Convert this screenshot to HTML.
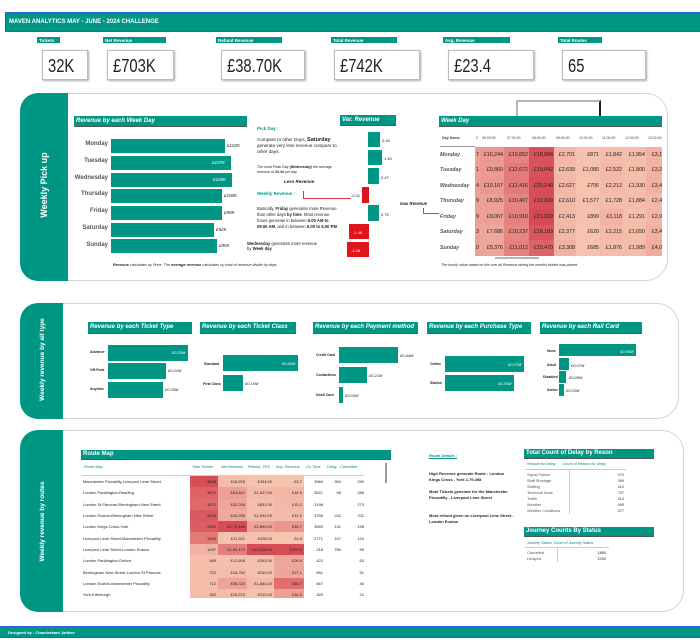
<!DOCTYPE html>
<html><head><meta charset="utf-8"><style>
*{margin:0;padding:0;box-sizing:border-box}
body{width:700px;height:644px;background:#fff;position:relative;overflow:hidden;font-family:"Liberation Sans",sans-serif;color:#222}
.a{position:absolute}
.t{background:#009684;color:#fff}
.hd{position:absolute;background:#009684;color:#fff;font-weight:bold;font-style:italic;font-size:6px;padding:2px 2px;border-bottom:1.5px solid #555;white-space:nowrap}
.lbl{position:absolute;background:#009684;color:#fff;font-weight:bold;font-size:4.5px;padding:1px 2px;height:6px}
.kpi{position:absolute;top:50px;height:30px;border:1px solid #bbb;box-shadow:1px 1px 2px #aaa;font-size:18px;padding:5px 0 0 5px}
.kpi span{display:inline-block;transform:scaleX(0.82);transform-origin:left}
.sec{position:absolute;border:1.5px solid #cfd6d4;border-radius:22px;background:#fff}
.band{position:absolute;background:#009684;border-radius:18px 0 0 18px}
.vt{position:absolute;color:#fff;font-weight:bold;transform:rotate(-90deg);white-space:nowrap;transform-origin:center}
.bar{position:absolute;background:#009684}
.s{position:absolute;font-size:4px;white-space:nowrap}
.dl{position:absolute;font-size:4.5px;font-style:italic;white-space:nowrap}
table{border-collapse:collapse;table-layout:fixed}
.hm td{height:15.5px;font-size:5.3px;text-align:right;padding:0 1px;white-space:nowrap;overflow:hidden}
.hm td.d{text-align:left;font-style:italic;font-weight:bold;color:#555;background:#fff;font-size:5.3px;padding-left:1px}
.rt td{height:11.3px;font-size:4px;text-align:right;padding:0 2px;white-space:nowrap;overflow:hidden}
.rt td.n{text-align:left;background:#fff}
.ch{position:absolute;top:136px;font-size:3.5px;color:#444;white-space:nowrap}
</style></head><body>

<div class="a t" style="left:5px;top:12px;width:700px;height:20px;border:1px solid #2b5fd9;font-size:6px;font-weight:bold;padding:6px 0 0 3px">MAVEN ANALYTICS MAY - JUNE - 2024 CHALLENGE</div>

<div class="lbl" style="left:37px;top:37px;width:23px">Tickets</div>
<div class="kpi" style="left:42px;width:46px"><span>32K</span></div>
<div class="lbl" style="left:103px;top:37px;width:63px">Net Revenue</div>
<div class="kpi" style="left:107px;width:67px"><span>£703K</span></div>
<div class="lbl" style="left:216px;top:37px;width:66px">Refund Revenue</div>
<div class="kpi" style="left:221px;width:84px"><span>£38.70K</span></div>
<div class="lbl" style="left:331px;top:37px;width:66px">Total Revenue</div>
<div class="kpi" style="left:334px;width:86px"><span>£742K</span></div>
<div class="lbl" style="left:443px;top:37px;width:67px">Avg. Revenue</div>
<div class="kpi" style="left:448px;width:86px"><span>£23.4</span></div>
<div class="lbl" style="left:558px;top:37px;width:44px">Total Routes</div>
<div class="kpi" style="left:562px;width:84px"><span>65</span></div>

<!-- Section 1 -->
<div class="sec" style="left:20px;top:93px;width:648px;height:188px"></div>
<div class="band" style="left:20px;top:93px;width:48px;height:188px"></div>
<div class="vt" style="left:-6px;top:180px;width:100px;text-align:center;font-size:9px">Weekly Pick up</div>

<div class="hd" style="left:74px;top:116px;width:173px;height:11px">Revenue by each Week Day</div>
<div class="a" style="left:30px;top:136px;width:78px;font-size:6px;font-weight:bold;color:#555;text-align:right;line-height:16.8px">Monday<br>Tuesday<br>Wednesday<br>Thursday<br>Friday<br>Saturday<br>Sunday</div>
<div class="bar" style="left:111px;top:139px;width:114px;height:14px"></div><div class="dl" style="left:227px;top:143px">£102K</div>
<div class="bar" style="left:111px;top:156px;width:120px;height:14px"></div><div class="dl" style="left:212px;top:160px;color:#fff">£107K</div>
<div class="bar" style="left:111px;top:173px;width:121px;height:14px"></div><div class="dl" style="left:213px;top:177px;color:#fff">£108K</div>
<div class="bar" style="left:111px;top:189px;width:111px;height:14px"></div><div class="dl" style="left:224px;top:193px">£100K</div>
<div class="bar" style="left:111px;top:206px;width:111px;height:14px"></div><div class="dl" style="left:224px;top:210px">£99K</div>
<div class="bar" style="left:111px;top:223px;width:103px;height:14px"></div><div class="dl" style="left:216px;top:227px">£92K</div>
<div class="bar" style="left:111px;top:239px;width:106px;height:14px"></div><div class="dl" style="left:219px;top:243px">£95K</div>
<div class="s" style="left:113px;top:263px;font-style:italic;font-size:3.8px"><b>Revenue</b> calculates by Price. The <b>average revenue</b> calculates by total of revenue divide by days.</div>

<div class="a" style="left:257px;top:126px;font-size:4.5px;font-weight:bold;color:#009684">Pick Day :</div>
<div class="a" style="left:257px;top:137px;font-size:4.6px;line-height:6px;width:80px">Compare to other Days, <b style="font-size:5.5px">Saturday</b> generate very less revenue compare to other days.</div>
<div class="a" style="left:257px;top:165px;font-size:3.6px;line-height:5px;width:80px">The most Peak Day <b>(Wednesday)</b> the average revenue of <b>23.44</b> per day</div>
<div class="a" style="left:284px;top:179px;font-size:4.5px;font-weight:bold;font-style:italic">Less Revenue</div>
<div class="a" style="left:257px;top:191px;font-size:4.5px;font-weight:bold;color:#009684">Weekly Revenue :</div>
<div class="a" style="left:303px;top:191px;width:1px;height:7px;background:#d33"></div>
<div class="a" style="left:303px;top:198px;width:48px;height:1px;background:#d33"></div>
<div class="a" style="left:257px;top:206px;font-size:4.2px;line-height:6px;width:80px">Basically, <b>Friday</b> generates more Revenue than other days <b>by time</b>. Most revenue hours generate in between <b>6.00 AM to 09.00 AM</b>. and in between <b>5.00 to 6.00 PM</b></div>
<div class="a" style="left:247px;top:241px;font-size:4.2px;line-height:5px;width:70px"><b>Wednesday</b> generates more revenue by <b>Week day</b></div>

<div class="hd" style="left:340px;top:115px;width:56px;height:11px">Var. Revenue</div>
<div class="bar" style="left:368px;top:132px;width:12px;height:15px"></div><div class="s" style="left:382px;top:138px">0.45</div>
<div class="bar" style="left:368px;top:150px;width:14px;height:15px"></div><div class="s" style="left:384px;top:156px">1.40</div>
<div class="bar" style="left:368px;top:168px;width:11px;height:16px"></div><div class="s" style="left:381px;top:175px">0.47</div>
<div class="a" style="left:362px;top:187px;width:7px;height:16px;background:#e0141a"></div><div class="s" style="left:351px;top:193px">-0.41</div>
<div class="bar" style="left:368px;top:205px;width:11px;height:16px"></div><div class="s" style="left:381px;top:212px">0.75</div>
<div class="a" style="left:349px;top:224px;width:20px;height:15px;background:#e0141a"></div><div class="s" style="left:353px;top:230px;color:#fff">-1.48</div>
<div class="a" style="left:347px;top:242px;width:22px;height:15px;background:#e0141a"></div><div class="s" style="left:351px;top:248px;color:#fff">-1.48</div>
<div class="a" style="left:400px;top:201px;font-size:4.2px;font-weight:bold;font-style:italic">max Revenue</div>
<div class="a" style="left:423px;top:208px;width:1px;height:5px;background:#d33"></div>
<div class="a" style="left:423px;top:213px;width:19px;height:1px;background:#d33"></div>

<div class="a" style="left:516px;top:100px;width:85px;height:16px;border:2px solid #b5b5b5;border-bottom:none;border-right:2px solid #222"></div>
<div class="hd" style="left:439px;top:116px;width:223px;height:11px">Week Day</div>
<div class="a" style="left:442px;top:136px;font-size:3.7px;font-weight:bold;color:#444;white-space:nowrap">Day Name</div>
<div class="ch" style="left:476px">0</div>
<div class="ch" style="left:482px">06:00:00</div>
<div class="ch" style="left:507px">07:00:00</div>
<div class="ch" style="left:532px">08:00:00</div>
<div class="ch" style="left:556px">09:00:00</div>
<div class="ch" style="left:579px">10:00:00</div>
<div class="ch" style="left:602px">11:00:00</div>
<div class="ch" style="left:625px">12:00:00</div>
<div class="ch" style="left:648px">13:00:00</div>
<div class="a" style="left:440px;top:146px;width:35px;height:1px;background:#999"></div>
<div class="a" style="left:439px;top:147px;width:223px;height:109px;overflow:hidden">
<table class="hm" style="width:230px">
<colgroup><col style="width:36px"><col style="width:5px"><col style="width:24px"><col style="width:25px"><col style="width:25px"><col style="width:22px"><col style="width:24px"><col style="width:23px"><col style="width:23px"><col style="width:23px"></colgroup>
<tr><td class="d">Monday</td><td style="background:#ee9f95">7</td><td style="background:#ea9890">£10,244</td><td style="background:#e5837f">£10,852</td><td style="background:#d9525a">£18,884</td><td style="background:#f3b8a7">£2,701</td><td style="background:#f5c2ae">£871</td><td style="background:#f4bca9">£1,842</td><td style="background:#f4bda9">£1,954</td><td style="background:#f2b2a3">£3,197</td></tr>
<tr><td class="d">Tuesday</td><td style="background:#ee9f95">1</td><td style="background:#eb9b92">£9,860</td><td style="background:#e37b79">£12,672</td><td style="background:#d95159">£19,042</td><td style="background:#f3b8a7">£2,639</td><td style="background:#f5c1ad">£1,080</td><td style="background:#f3b8a7">£2,522</td><td style="background:#f4bea9">£1,800</td><td style="background:#f2b2a3">£3,228</td></tr>
<tr><td class="d">Wednesday</td><td style="background:#ee9f95">4</td><td style="background:#ea9890">£10,167</td><td style="background:#e37c79">£12,416</td><td style="background:#d74c55">£20,149</td><td style="background:#f3b8a7">£2,627</td><td style="background:#f5c3ae">£706</td><td style="background:#f3baa8">£2,212</td><td style="background:#f4bda9">£1,930</td><td style="background:#f2b0a1">£3,465</td></tr>
<tr><td class="d">Thursday</td><td style="background:#ee9f95">9</td><td style="background:#eca196">£8,925</td><td style="background:#e6857f">£10,407</td><td style="background:#d84e57">£19,809</td><td style="background:#f3b8a7">£2,610</td><td style="background:#f4bfab">£1,577</td><td style="background:#f4bda9">£1,728</td><td style="background:#f4bda9">£1,884</td><td style="background:#f3b8a7">£2,460</td></tr>
<tr><td class="d">Friday</td><td style="background:#ee9f95">9</td><td style="background:#eca096">£9,067</td><td style="background:#e5827e">£10,910</td><td style="background:#d64852">£21,029</td><td style="background:#f3b9a8">£2,413</td><td style="background:#f5c2ae">£899</td><td style="background:#f2b3a4">£3,118</td><td style="background:#f4bfab">£1,291</td><td style="background:#f3b5a5">£2,916</td></tr>
<tr><td class="d">Saturday</td><td style="background:#ee9f95">3</td><td style="background:#eea89b">£7,686</td><td style="background:#e6867f">£10,237</td><td style="background:#da555c">£18,183</td><td style="background:#f3b9a8">£2,377</td><td style="background:#f5c3ae">£620</td><td style="background:#f3baa8">£2,215</td><td style="background:#f4bea9">£1,650</td><td style="background:#f2b0a1">£3,410</td></tr>
<tr><td class="d">Sunday</td><td style="background:#ee9f95">0</td><td style="background:#eda499">£8,376</td><td style="background:#e4817d">£11,012</td><td style="background:#dd6367">£15,470</td><td style="background:#f2b2a3">£3,308</td><td style="background:#f5c3ae">£685</td><td style="background:#f4bca9">£1,876</td><td style="background:#f4bda9">£1,989</td><td style="background:#f1ac9e">£4,027</td></tr>
</table></div>
<div class="a" style="left:495px;top:257px;width:44px;height:2px;background:#b5b5b5"></div>
<div class="s" style="left:441px;top:263px;font-size:3.6px;font-style:italic">The hourly value based on the over all Revenue during the months tickets was placed</div>

<!-- Section 2 -->
<div class="sec" style="left:20px;top:303px;width:659px;height:116px"></div>
<div class="band" style="left:20px;top:303px;width:43px;height:116px"></div>
<div class="vt" style="left:-20px;top:356px;width:125px;text-align:center;font-size:6.5px">Weekly revenue by all type</div>

<div class="hd" style="left:88px;top:322px;width:104px;height:12px;padding-top:2px">Revenue by each Ticket Type</div>
<div class="s" style="left:90px;top:350px;font-weight:bold;font-size:3.5px">Advance</div><div class="bar" style="left:108px;top:345px;width:80px;height:16px"></div><div class="s" style="left:172px;top:350px;color:#fff;font-style:italic">£0.28M</div>
<div class="s" style="left:90px;top:368px;font-weight:bold;font-size:3.5px">Off-Peak</div><div class="bar" style="left:108px;top:363px;width:58px;height:16px"></div><div class="s" style="left:168px;top:368px;font-style:italic">£0.21M</div>
<div class="s" style="left:90px;top:387px;font-weight:bold;font-size:3.5px">Anytime</div><div class="bar" style="left:108px;top:382px;width:55px;height:16px"></div><div class="s" style="left:165px;top:387px;font-style:italic">£0.20M</div>

<div class="hd" style="left:200px;top:322px;width:96px;height:12px;padding-top:2px">Revenue by each Ticket Class</div>
<div class="s" style="left:204px;top:362px;font-weight:bold;font-size:3.5px">Standard</div>
<div class="bar" style="left:223px;top:355px;width:75px;height:16px"></div><div class="s" style="left:282px;top:361px;color:#fff;font-style:italic">£0.60M</div>
<div class="s" style="left:203px;top:382px;font-weight:bold;font-size:3.5px">First Class</div>
<div class="bar" style="left:223px;top:375px;width:20px;height:16px"></div>
<div class="s" style="left:245px;top:381px;font-style:italic">£0.10M</div>

<div class="hd" style="left:313px;top:322px;width:105px;height:12px;padding-top:2px">Revenue by each Payment method</div>
<div class="s" style="left:316px;top:353px;font-weight:bold;font-size:3.5px">Credit Card</div><div class="bar" style="left:339px;top:347px;width:59px;height:16px"></div><div class="s" style="left:400px;top:353px;font-style:italic">£0.44M</div>
<div class="s" style="left:316px;top:373px;font-weight:bold;font-size:3.5px">Contactless</div><div class="bar" style="left:339px;top:367px;width:28px;height:16px"></div><div class="s" style="left:369px;top:373px;font-style:italic">£0.21M</div>
<div class="s" style="left:316px;top:393px;font-weight:bold;font-size:3.5px">Debit Card</div><div class="bar" style="left:339px;top:387px;width:4px;height:16px"></div><div class="s" style="left:345px;top:393px;font-style:italic">£0.03M</div>

<div class="hd" style="left:427px;top:322px;width:104px;height:12px;padding-top:2px">Revenue by each Purchase Type</div>
<div class="s" style="left:430px;top:362px;font-weight:bold;font-size:3.5px">Online</div><div class="bar" style="left:445px;top:356px;width:79px;height:16px"></div><div class="s" style="left:508px;top:362px;color:#fff;font-style:italic">£0.37M</div>
<div class="s" style="left:430px;top:381px;font-weight:bold;font-size:3.5px">Station</div><div class="bar" style="left:445px;top:375px;width:69px;height:16px"></div><div class="s" style="left:498px;top:381px;color:#fff;font-style:italic">£0.33M</div>

<div class="hd" style="left:540px;top:322px;width:102px;height:12px;padding-top:2px">Revenue by each Rail Card</div>
<div class="s" style="left:547px;top:349px;font-weight:bold;font-size:3.5px">None</div><div class="bar" style="left:559px;top:344px;width:77px;height:12px"></div><div class="s" style="left:620px;top:349px;color:#fff;font-style:italic">£0.59M</div>
<div class="s" style="left:547px;top:363px;font-weight:bold;font-size:3.5px">Adult</div><div class="bar" style="left:559px;top:358px;width:10px;height:12px"></div><div class="s" style="left:571px;top:363px;font-style:italic">£0.07M</div>
<div class="s" style="left:543px;top:375px;font-weight:bold;font-size:3.5px">Disabled</div><div class="bar" style="left:559px;top:371px;width:7px;height:12px"></div><div class="s" style="left:569px;top:375px;font-style:italic">£0.05M</div>
<div class="s" style="left:547px;top:388px;font-weight:bold;font-size:3.5px">Senior</div><div class="bar" style="left:559px;top:384px;width:5px;height:12px"></div><div class="s" style="left:566px;top:388px;font-style:italic">£0.03M</div>

<!-- Section 3 -->
<div class="sec" style="left:20px;top:430px;width:664px;height:182px"></div>
<div class="band" style="left:20px;top:430px;width:43px;height:182px"></div>
<div class="vt" style="left:-20px;top:518px;width:125px;text-align:center;font-size:6.5px">Weekly revenue by routes</div>

<div class="hd" style="left:81px;top:450px;width:310px;height:10px;padding-top:1px;font-style:normal">Route Map</div>
<div class="a" style="left:84px;top:465px;width:285px;font-size:3.8px;font-style:italic;color:#00897a;white-space:nowrap">
<span class="a" style="left:0">Route Map</span><span class="a" style="left:108px">Total Tickets</span><span class="a" style="left:137px">Net Revenue</span><span class="a" style="left:164px">Refund_YES</span><span class="a" style="left:192px">Avg. Revenue</span><span class="a" style="left:222px">On Time</span><span class="a" style="left:243px">Delay</span><span class="a" style="left:256px">Cancelled</span></div>
<div class="a" style="left:82px;top:475px;width:282px;height:1px;background:#ccc"></div>
<div class="a" style="left:385px;top:463px;width:2px;height:20px;background:#999"></div>
<div class="a" style="left:81px;top:476px;width:285px;height:122px;overflow:hidden">
<table class="rt" style="width:285px">
<colgroup><col style="width:109px"><col style="width:28px"><col style="width:29px"><col style="width:27px"><col style="width:30px"><col style="width:21px"><col style="width:18px"><col style="width:23px"></colgroup>
<tr><td class="n">Manchester Piccadilly-Liverpool Lime Street</td><td style="background:#d84e57">4628</td><td style="background:#f4bca9">£16,976</td><td style="background:#f5c3ae">£334.00</td><td style="background:#f5c3ae">£3.7</td><td>3984</td><td>354</td><td>290</td></tr>
<tr><td class="n">London Paddington-Reading</td><td style="background:#de6266">3873</td><td style="background:#ee9f95">£63,841</td><td style="background:#f3baa8">£1,527.00</td><td style="background:#f3b7a6">£16.9</td><td>3521</td><td>66</td><td>286</td></tr>
<tr><td class="n">London St Pancras-Birmingham New Street</td><td style="background:#e06a6b">3471</td><td style="background:#efa69a">£52,038</td><td style="background:#f4bfab">£831.00</td><td style="background:#f3b8a7">£15.2</td><td>3198</td><td></td><td>273</td></tr>
<tr><td class="n">London Euston-Birmingham New Street</td><td style="background:#da5860">4209</td><td style="background:#f0a99c">£49,255</td><td style="background:#f4bdaa">£1,094.00</td><td style="background:#f4bba9">£12.0</td><td>3756</td><td>242</td><td>211</td></tr>
<tr><td class="n">London Kings Cross-York</td><td style="background:#dc5d62">3922</td><td style="background:#d74c55">£1,79,498</td><td style="background:#eea398">£3,895.00</td><td style="background:#ea958e">£46.7</td><td>3593</td><td>131</td><td>198</td></tr>
<tr><td class="n">Liverpool Lime Street-Manchester Piccadilly</td><td style="background:#e37a78">3002</td><td style="background:#f5c1ad">£11,521</td><td style="background:#f5c1ad">£428.00</td><td style="background:#f5c3ae">£4.0</td><td>2771</td><td>107</td><td>124</td></tr>
<tr><td class="n">Liverpool Lime Street-London Euston</td><td style="background:#f2b2a3">1097</td><td style="background:#e47f7c">£1,00,173</td><td style="background:#d74c55">£13,126.00</td><td style="background:#d74c55">£103.3</td><td>218</td><td>780</td><td>99</td></tr>
<tr><td class="n">London Paddington-Oxford</td><td style="background:#f4bea9">485</td><td style="background:#f5c0ac">£12,606</td><td style="background:#f5c2ae">£253.00</td><td style="background:#efa79a">£26.5</td><td>422</td><td></td><td>63</td></tr>
<tr><td class="n">Birmingham New Street-London St Pancras</td><td style="background:#f4bca9">702</td><td style="background:#f4bca9">£18,762</td><td style="background:#f5c2ae">£249.00</td><td style="background:#efa69a">£27.1</td><td>651</td><td></td><td>51</td></tr>
<tr><td class="n">London Euston-Manchester Piccadilly</td><td style="background:#f4bca9">712</td><td style="background:#eea398">£58,320</td><td style="background:#f3baa8">£1,684.00</td><td style="background:#e16d6e">£85.7</td><td>667</td><td></td><td>45</td></tr>
<tr><td class="n">York-Edinburgh</td><td style="background:#f4bea9">342</td><td style="background:#f4bca9">£16,573</td><td style="background:#f5c2ae">£312.00</td><td style="background:#ef9f95">£34.5</td><td>320</td><td></td><td>22</td></tr>
</table></div>

<div class="a" style="left:429px;top:453px;font-size:4px;font-weight:bold;font-style:italic;color:#009684;text-decoration:underline">Route Details :</div>
<div class="a" style="left:429px;top:471px;font-size:4px;font-weight:bold;line-height:6px;width:85px">High Revenue generate Route : London Kings Cross - York 1,79,498</div>
<div class="a" style="left:429px;top:489px;font-size:4px;font-weight:bold;line-height:6px;width:85px">Most Tickets generate for the Manchester Piccadilly - Liverpool Lime Street</div>
<div class="a" style="left:429px;top:513px;font-size:4px;font-weight:bold;line-height:6px;width:85px">Most refund given on Liverpool Lime Street - London Euston</div>

<div class="hd" style="left:524px;top:449px;width:130px;height:10px;padding-top:1px;font-style:normal">Total Count of Delay by Reson</div>
<div class="a" style="left:527px;top:462px;font-size:3.7px;font-style:italic;color:#00897a;white-space:nowrap">Reason for Delay &nbsp; &nbsp; &nbsp; Count of Reason for Delay</div>
<div class="a" style="left:525px;top:469px;width:101px;height:1px;background:#ccc"></div>
<div class="a" style="left:569px;top:470px;width:1px;height:44px;background:#ccc"></div>
<div class="a" style="left:527px;top:472px;font-size:3.8px;line-height:6px;color:#555">Signal Failure<br>Staff Shortage<br>Staffing<br>Technical Issue<br>Traffic<br>Weather<br>Weather Conditions</div>
<div class="a" style="left:606px;top:472px;font-size:3.8px;line-height:6px;color:#333;text-align:right;width:18px">970<br>399<br>410<br>707<br>314<br>995<br>377</div>

<div class="hd" style="left:524px;top:527px;width:130px;height:10px;padding-top:1px;font-style:normal">Journey Counts By Status</div>
<div class="a" style="left:527px;top:541px;font-size:3.7px;font-style:italic;color:#00897a;white-space:nowrap">Journey Status &nbsp;Count of Journey Status</div>
<div class="a" style="left:525px;top:547px;width:84px;height:1px;background:#ccc"></div>
<div class="a" style="left:557px;top:548px;width:1px;height:14px;background:#ccc"></div>
<div class="a" style="left:527px;top:550px;font-size:3.8px;line-height:6px;color:#555">Cancelled<br>Delayed</div>
<div class="a" style="left:588px;top:550px;font-size:3.8px;line-height:6px;text-align:right;width:18px">1880<br>2292</div>

<div class="a t" style="left:0;top:626px;width:700px;height:12px;border-top:1px solid #2b5fd9;border-bottom:1px solid #2b5fd9;font-size:4px;font-weight:bold;padding:3px 0 0 8px">Designed by : Chandrakant Jadhav</div>
</body></html>
